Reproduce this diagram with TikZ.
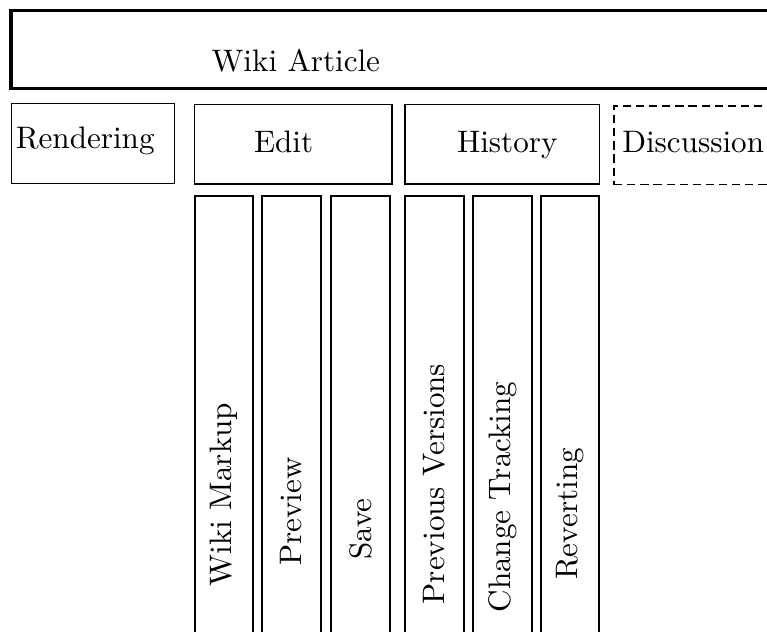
\documentclass[tikz,border=0pt]{standalone}
\begin{document}
\begin{tikzpicture}[
  x=0.328pt, y=-0.328pt,
  every node/.style={font=\fontsize{10.2pt}{12pt}\selectfont},
  box/.style={draw, rectangle, inner sep=0pt, outer sep=0pt, line width=0.45pt},
  tabbox/.style={box, line width=0.55pt},
  featbox/.style={box, rotate=90, line width=0.65pt, minimum height=19.25pt},
  topbox/.style={box, line width=1pt},
  title/.style={inner sep=0pt, outer sep=0pt, anchor=base west},
]
\useasboundingbox (0,0) rectangle (767,632);
\clip (0,0) rectangle (767,632);

% article header
\node[topbox, minimum width=291.6pt, minimum height=25.6pt] (article) at (455.5,49.7) {};
\node[title] (articletext) at (211.5,71.8) {Wiki Article};

% tabs
\node[box, minimum width=53.6pt, minimum height=26.2pt] (rendering) at (93,143.5) {};
\node[title] (renderingtext) at (15.8,149) {Rendering};

\node[tabbox, minimum width=64.8pt, minimum height=26.2pt] (edit) at (293.2,144.3) {};
\node[title] (edittext) at (254,152.2) {Edit};

\node[tabbox, minimum width=63.8pt, minimum height=26.2pt] (history) at (502.3,144.3) {};
\node[title] (historytext) at (457,152.2) {History};

\node[box, dash pattern=on 2.7pt off 1.6pt, minimum width=54.4pt, minimum height=25.8pt] (discussion) at (697,145.3) {};
\node[title] (discussiontext) at (622.3,153) {Discussion};

% edit features
\node[featbox, minimum width=195.8pt] (markup) at (224,494.5) {Wiki Markup};
\node[featbox, minimum width=207pt] (preview) at (291.5,511.5) {Preview};
\node[featbox, minimum width=218.4pt] (save) at (360.5,529) {Save};

% history features
\node[featbox, minimum width=188.9pt] (versions) at (434.7,484) {Previous Versions};
\node[featbox, minimum width=197.5pt] (tracking) at (502.8,497) {Change Tracking};
\node[featbox, minimum width=208.6pt] (reverting) at (570,514) {Reverting};
\end{tikzpicture}
\end{document}
